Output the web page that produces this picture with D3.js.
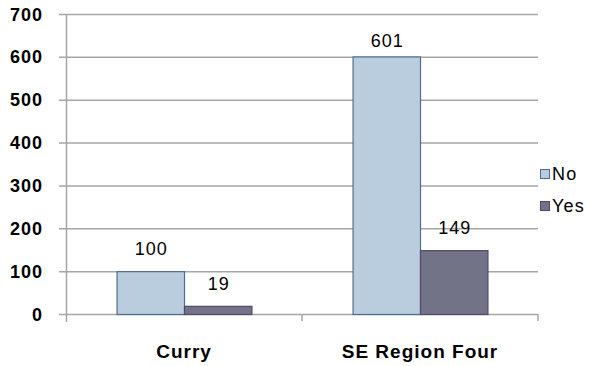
<!DOCTYPE html>
<html><head><meta charset="utf-8">
<script src="https://cdn.jsdelivr.net/npm/d3@7/dist/d3.min.js"></script>
<style>body{margin:0;background:#fff}svg{display:block}text{font-family:Arial,"Liberation Sans",sans-serif}</style>
</head><body><svg id="c" width="594" height="366"></svg>
<script>
const categories = ["Curry", "SE Region Four"];
const seriesNames = ["No", "Yes"];
const noValues = [100, 601];
const yesValues = [19, 149];
const yTicks = [0, 100, 200, 300, 400, 500, 600, 700];

const fills = {No: "#b9cddf", Yes: "#737388"};
const strokes = {No: "#4f6d8e", Yes: "#54466c"};

const svg = d3.select("#c");
const pL = 66, pR = 538, pT = 14, pB = 314;
const x = d3.scaleBand().domain(categories).range([pL, pR]).paddingInner(0).paddingOuter(0);
const y = d3.scaleLinear().domain([0, 700]).range([pB, pT]);
const xs = d3.scaleBand().domain(seriesNames).range([0, x.bandwidth()]).paddingInner(0).paddingOuter(0.75);

const grid = "#a6a6a6";
svg.append("g").selectAll("line").data(yTicks).join("line")
  .attr("x1", pL - 7).attr("x2", pR).attr("y1", d => y(d) + 0.5).attr("y2", d => y(d) + 0.5)
  .attr("stroke", grid).attr("stroke-width", 1.5);
svg.append("line").attr("x1", pL + 0.5).attr("x2", pL + 0.5).attr("y1", pT).attr("y2", pB + 8)
  .attr("stroke", grid).attr("stroke-width", 1.5);
svg.append("g").selectAll("line").data(categories.slice(1).map(c => x(c)).concat([pR])).join("line")
  .attr("x1", d => d).attr("x2", d => d).attr("y1", pB).attr("y2", pB + 7)
  .attr("stroke", grid).attr("stroke-width", 1.5);

svg.append("g").selectAll("text").data(yTicks).join("text")
  .attr("x", 43).attr("y", d => y(d) + 6.5).attr("text-anchor", "end")
  .attr("font-size", 18).attr("font-weight", "bold").attr("letter-spacing", 1).attr("fill", "#000")
  .text(d => d);

const rows = [];
categories.forEach((c, i) => {
  rows.push({cat: c, s: "No", v: noValues[i]});
  rows.push({cat: c, s: "Yes", v: yesValues[i]});
});

svg.append("g").selectAll("rect").data(rows).join("rect")
  .attr("x", d => x(d.cat) + xs(d.s) + 0.5)
  .attr("y", d => y(d.v) + 0.5)
  .attr("width", xs.bandwidth())
  .attr("height", d => y(0) - y(d.v))
  .attr("fill", d => fills[d.s]).attr("stroke", d => strokes[d.s]).attr("stroke-width", 1.2);

svg.append("g").selectAll("text").data(rows).join("text")
  .attr("x", d => x(d.cat) + xs(d.s) + xs.bandwidth() / 2 + 1)
  .attr("y", d => Math.max(y(d.v) - 16, 47))
  .attr("text-anchor", "middle").attr("font-size", 18).attr("letter-spacing", 1).attr("fill", "#000")
  .text(d => d.v);

svg.append("g").selectAll("text").data(categories).join("text")
  .attr("x", d => x(d) + x.bandwidth() / 2).attr("y", 358)
  .attr("text-anchor", "middle").attr("font-size", 19).attr("font-weight", "bold").attr("letter-spacing", 1)
  .text(d => d);

const lg = svg.append("g").selectAll("g").data(seriesNames).join("g")
  .attr("transform", (d, i) => `translate(540,${169 + i * 32})`);
lg.append("rect").attr("x", 0.5).attr("y", 0.5).attr("width", 9).attr("height", 9)
  .attr("fill", d => fills[d]).attr("stroke", d => strokes[d]).attr("stroke-width", 1);
lg.append("text").attr("x", 12).attr("y", 10.5).attr("font-size", 18).attr("letter-spacing", 1.2).text(d => d);
</script></body></html>
